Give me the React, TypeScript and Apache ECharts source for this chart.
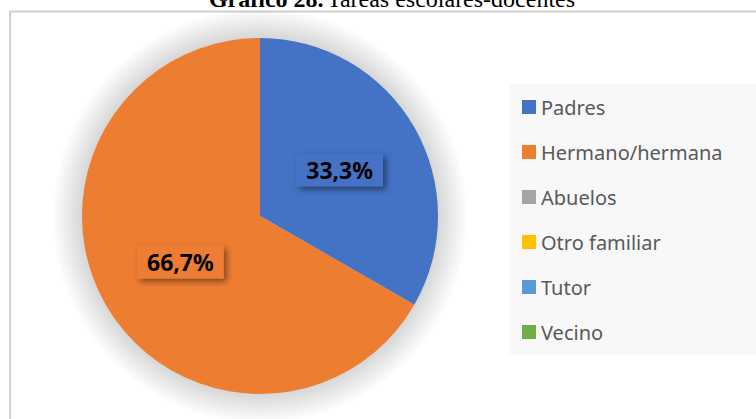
import React, { useEffect, useRef } from "react";
import * as echarts from "echarts";

const titleBold = "Gráfico 28.";
const titleRest = "Tareas escolares-docentes";
const categories = ["Padres", "Hermano/hermana", "Abuelos", "Otro familiar", "Tutor", "Vecino"];
const values = [33.3, 66.7, 0, 0, 0, 0];
const colors = ["#4472C4", "#ED7D31", "#A5A5A5", "#FFC000", "#5B9BD5", "#70AD47"];

const CX = 260;
const CY = 216;
const R = 178;

export default function App() {
  const ref = useRef<HTMLDivElement>(null);
  useEffect(() => {
    if (!ref.current) return;
    const chart = echarts.init(ref.current, null, { renderer: "svg" });
    const data = categories.map((name, i) => ({
      name,
      value: values[i],
      label: { show: values[i] > 0 },
    }));
    const glow: any[] = [];
    for (let i = 1; i <= 14; i++) {
      glow.push({
        type: "circle",
        z: 1,
        silent: true,
        shape: { cx: CX, cy: CY, r: R - 2 + i * 2.2 },
        style: { fill: "rgba(0,0,0,0.011)" },
      });
    }
    chart.setOption({
      animation: false,
      backgroundColor: "#ffffff",
      color: colors,
      graphic: [
        {
          type: "rect",
          z: 0,
          shape: { x: 10, y: 11.5, width: 780, height: 440 },
          style: { fill: "none", stroke: "#d0d0d0", lineWidth: 2 },
        },
        {
          type: "rect",
          z: 0,
          shape: { x: 510, y: 84, width: 260, height: 271 },
          style: { fill: "#f8f8f8" },
        },
        ...glow,
        {
          type: "text",
          z: 5,
          x: 392,
          y: 11,
          style: {
            text: "{b|" + titleBold + "} {r|" + titleRest + "}",
            align: "center",
            verticalAlign: "bottom",
            rich: {
              b: { fontFamily: "Liberation Serif", fontWeight: "bold", fontSize: 24, fill: "#000" },
              r: { fontFamily: "Liberation Serif", fontSize: 24, fill: "#000" },
            },
          },
        },
      ],
      legend: {
        orient: "vertical",
        left: 522,
        top: 95,
        padding: 0,
        itemWidth: 14,
        itemHeight: 14,
        itemGap: 21,
        icon: "rect",
        data: categories,
        textStyle: {
          fontFamily: "Noto Sans",
          fontSize: 20,
          lineHeight: 24,
          color: "#595959",
        },
      },
      series: [
        {
          type: "pie",
          z: 3,
          center: [CX, CY],
          radius: R,
          startAngle: 90,
          clockwise: true,
          data,
          itemStyle: { borderWidth: 0 },
          label: {
            position: "inside",
            formatter: (p: any) => String(p.value.toFixed(1)).replace(".", ",") + "%",
            fontFamily: "Noto Sans",
            fontWeight: "bold",
            fontSize: 23,
            color: "#000",
            backgroundColor: "inherit",
            padding: [6, 10, 4, 10],
            shadowBlur: 6,
            shadowOffsetX: 3,
            shadowOffsetY: 3,
            shadowColor: "rgba(0,0,0,0.45)",
          },
          labelLine: { show: false },
          emphasis: { disabled: true },
        },
      ],
    });
    return () => chart.dispose();
  }, []);
  return (
    <div
      ref={ref}
      style={{ position: "absolute", left: 0, top: 0, width: 756, height: 419 }}
    />
  );
}
